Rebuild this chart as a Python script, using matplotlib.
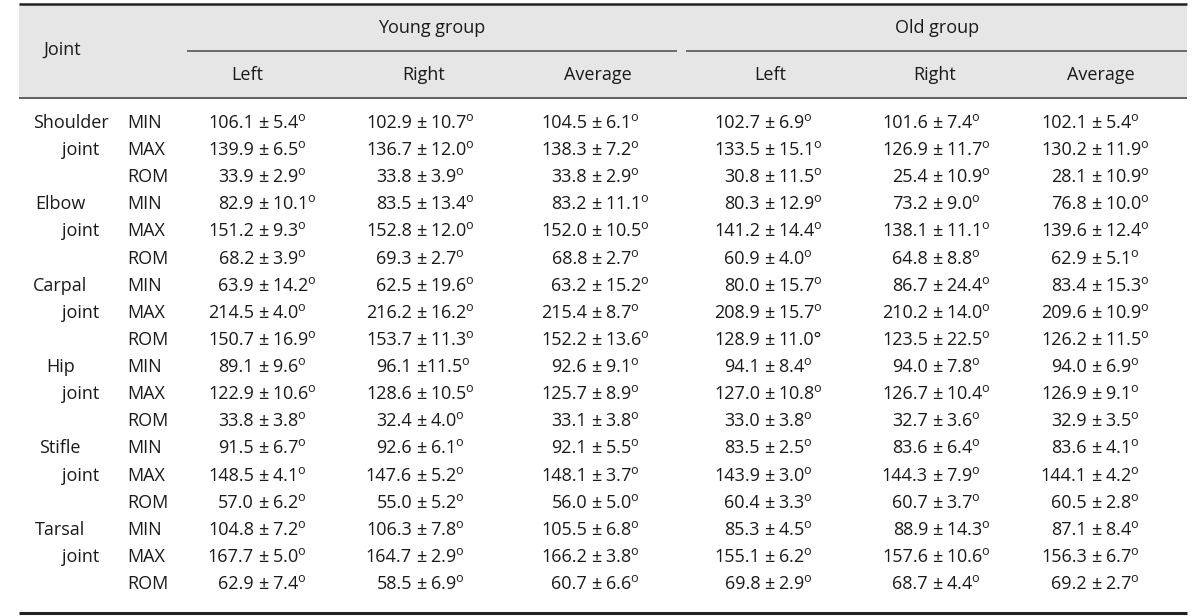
import matplotlib
matplotlib.use("Agg")
import matplotlib.pyplot as plt

plt.rcParams['font.family'] = ['Open Sans', 'DejaVu Sans']
plt.rcParams['mathtext.fontset'] = 'custom'
plt.rcParams['mathtext.rm'] = 'Open Sans'
plt.rcParams['mathtext.it'] = 'Open Sans'

# ---------------- data ----------------
joints = ["Shoulder", "Elbow", "Carpal", "Hip", "Stifle", "Tarsal"]
measures = ["MIN", "MAX", "ROM"]
groups = ["Young group", "Old group"]
sides = ["Left", "Right", "Average"]

young_left_mean = [106.1, 139.9, 33.9, 82.9, 151.2, 68.2, 63.9, 214.5, 150.7, 89.1, 122.9, 33.8, 91.5, 148.5, 57.0, 104.8, 167.7, 62.9]
young_left_sd = [5.4, 6.5, 2.9, 10.1, 9.3, 3.9, 14.2, 4.0, 16.9, 9.6, 10.6, 3.8, 6.7, 4.1, 6.2, 7.2, 5.0, 7.4]
young_right_mean = [102.9, 136.7, 33.8, 83.5, 152.8, 69.3, 62.5, 216.2, 153.7, 96.1, 128.6, 32.4, 92.6, 147.6, 55.0, 106.3, 164.7, 58.5]
young_right_sd = [10.7, 12.0, 3.9, 13.4, 12.0, 2.7, 19.6, 16.2, 11.3, 11.5, 10.5, 4.0, 6.1, 5.2, 5.2, 7.8, 2.9, 6.9]
young_avg_mean = [104.5, 138.3, 33.8, 83.2, 152.0, 68.8, 63.2, 215.4, 152.2, 92.6, 125.7, 33.1, 92.1, 148.1, 56.0, 105.5, 166.2, 60.7]
young_avg_sd = [6.1, 7.2, 2.9, 11.1, 10.5, 2.7, 15.2, 8.7, 13.6, 9.1, 8.9, 3.8, 5.5, 3.7, 5.0, 6.8, 3.8, 6.6]
old_left_mean = [102.7, 133.5, 30.8, 80.3, 141.2, 60.9, 80.0, 208.9, 128.9, 94.1, 127.0, 33.0, 83.5, 143.9, 60.4, 85.3, 155.1, 69.8]
old_left_sd = [6.9, 15.1, 11.5, 12.9, 14.4, 4.0, 15.7, 15.7, 11.0, 8.4, 10.8, 3.8, 2.5, 3.0, 3.3, 4.5, 6.2, 2.9]
old_right_mean = [101.6, 126.9, 25.4, 73.2, 138.1, 64.8, 86.7, 210.2, 123.5, 94.0, 126.7, 32.7, 83.6, 144.3, 60.7, 88.9, 157.6, 68.7]
old_right_sd = [7.4, 11.7, 10.9, 9.0, 11.1, 8.8, 24.4, 14.0, 22.5, 7.8, 10.4, 3.6, 6.4, 7.9, 3.7, 14.3, 10.6, 4.4]
old_avg_mean = [102.1, 130.2, 28.1, 76.8, 139.6, 62.9, 83.4, 209.6, 126.2, 94.0, 126.9, 32.9, 83.6, 144.1, 60.5, 87.1, 156.3, 69.2]
old_avg_sd = [5.4, 11.9, 10.9, 10.0, 12.4, 5.1, 15.3, 10.9, 11.5, 6.9, 9.1, 3.5, 4.1, 4.2, 2.8, 8.4, 6.7, 2.7]

columns = [
    (young_left_mean, young_left_sd),
    (young_right_mean, young_right_sd),
    (young_avg_mean, young_avg_sd),
    (old_left_mean, old_left_sd),
    (old_right_mean, old_right_sd),
    (old_avg_mean, old_avg_sd),
]

# ---------------- layout ----------------
W, H = 1200, 616
fig = plt.figure(figsize=(12, 6.16), dpi=100)
ax = fig.add_axes([0, 0, 1, 1])
ax.set_xlim(0, W)
ax.set_ylim(H, 0)
ax.axis('off')

FS = 13
TC = '#1a1a1a'
x_left, x_right = 19, 1187
ax.add_patch(plt.Rectangle((x_left, 4), x_right - x_left, 93, color='#e6e6e6', zorder=0, lw=0))
ax.plot([x_left, x_right], [3.5, 3.5], color='#222222', lw=1.8, solid_capstyle='butt')
ax.plot([x_left, x_right], [97.5, 97.5], color='#444444', lw=1.2, solid_capstyle='butt')
ax.plot([x_left, x_right], [613, 613], color='#222222', lw=2.2, solid_capstyle='butt')
ax.plot([187, 677], [51, 51], color='#555555', lw=1.2, solid_capstyle='butt')
ax.plot([686, 1187], [51, 51], color='#555555', lw=1.2, solid_capstyle='butt')

ax.text(62, 50, "Joint", fontsize=FS, ha='center', va='center', color=TC)
group_x = [432, 937]
for g, gx in zip(groups, group_x):
    ax.text(gx, 28, g, fontsize=FS, ha='center', va='center', color=TC)
head_x = [247, 424, 598, 770, 935, 1101]
for i, hx in enumerate(head_x):
    ax.text(hx, 75, sides[i % 3], fontsize=FS, ha='center', va='center', color=TC)

y0, y1 = 123, 584
n = len(joints) * len(measures)
row_y = [y0 + (y1 - y0) * i / (n - 1) for i in range(n)]

name_cx = [71, 60, 60, 61, 60, 60]
for j, name in enumerate(joints):
    ax.text(name_cx[j], row_y[3 * j], name, fontsize=FS, ha='center', va='center', color=TC)
    ax.text(81, row_y[3 * j + 1], "joint", fontsize=FS, ha='center', va='center', color=TC)

for i in range(n):
    ax.text(127, row_y[i], measures[i % 3], fontsize=FS, ha='left', va='center', color=TC)

pm_x = [263, 421, 596, 769, 937, 1096]
for c, (means, sds) in enumerate(columns):
    px = pm_x[c]
    for i in range(n):
        y = row_y[i]
        ax.text(px - 9, y, f"{means[i]:.1f}", fontsize=FS, ha='right', va='center', color=TC)
        ax.text(px, y, "±", fontsize=FS, ha='center', va='center', color=TC)
        gap = 5 if (c == 1 and i == 9) else 9
        deg = "°" if (c == 3 and i == 8) else r"$^{\mathrm{o}}$"
        ax.text(px + gap, y, f"{sds[i]:.1f}" + deg, fontsize=FS, ha='left', va='center', color=TC)

fig.savefig("out.png", dpi=100, facecolor='white')
